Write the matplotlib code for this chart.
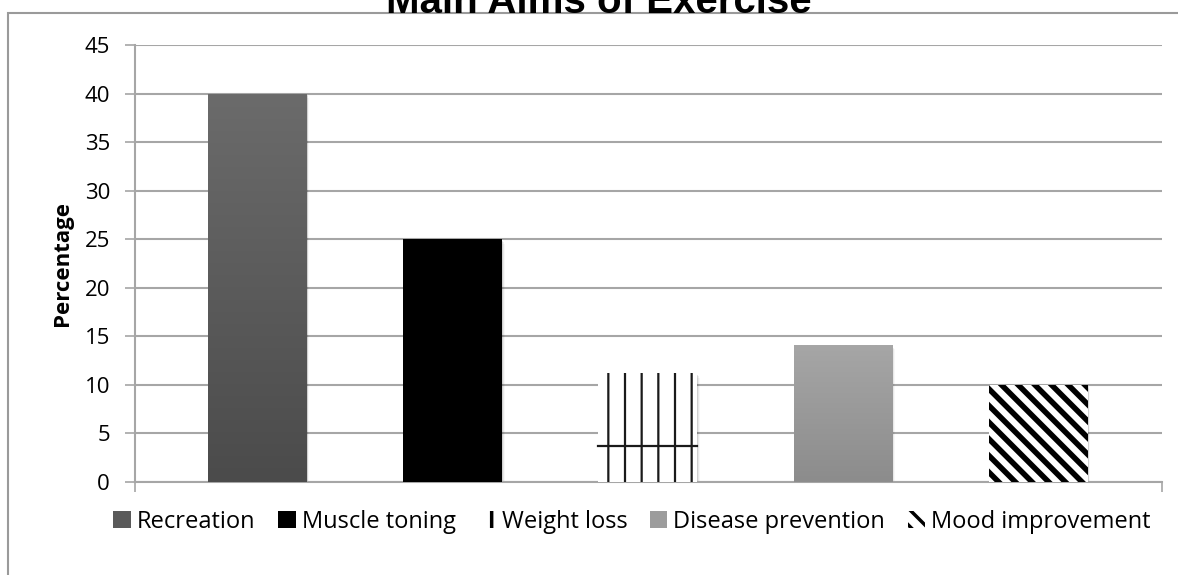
import numpy as np
import matplotlib
matplotlib.use("Agg")
import matplotlib.pyplot as plt
from matplotlib.patches import Rectangle, Patch

# data
categories = ["Recreation", "Muscle toning", "Weight loss", "Disease prevention", "Mood improvement"]
values = [40, 25, 11.2, 14.1, 10]
yticks = [0, 5, 10, 15, 20, 25, 30, 35, 40, 45]

plt.rcParams["font.family"] = ["Open Sans", "DejaVu Sans"]

fig = plt.figure(figsize=(11.78, 5.75), dpi=100)
ax = fig.add_axes([135 / 1178, 1 - 482 / 575, 1027 / 1178, 437 / 575])

x = np.arange(len(categories))
width = 0.507
grid_col = "#a6a6a6"

# outer chart frame (only top/left edges show in the crop)
fig.patches.append(Rectangle((8 / 1178, -0.2), 1.2, 1.2 - 13 / 575, transform=fig.transFigure,
                             fill=False, edgecolor="#9a9a9a", linewidth=1.5, zorder=0))

# bars
bars = []
for i, (cat, v) in enumerate(zip(categories, values)):
    if cat == "Weight loss":
        plt.rcParams["hatch.linewidth"] = 1.6
        b = ax.bar(x[i], v, width, color="white", edgecolor="#1a1a1a", hatch="|", linewidth=0, zorder=3)[0]
    elif cat == "Mood improvement":
        plt.rcParams["hatch.linewidth"] = 4.0
        b = ax.bar(x[i], v, width, color="white", edgecolor="black", hatch="\\\\", linewidth=0, zorder=3)[0]
    elif cat == "Muscle toning":
        b = ax.bar(x[i], v, width, color="black", linewidth=0, zorder=3)[0]
    else:
        b = ax.bar(x[i], v, width, color="none", linewidth=0, zorder=3)[0]
    bars.append(b)

# gradient fills for the two grey bars
grads = {"Recreation": ("#6b6b6b", "#4b4b4b"), "Disease prevention": ("#a6a6a6", "#8c8c8c")}
for cat, b in zip(categories, bars):
    if cat in grads:
        top, bot = [np.array(matplotlib.colors.to_rgb(c)) for c in grads[cat]]
        t = np.linspace(0, 1, 100)[:, None]
        img = (top * (1 - t) + bot * t)[:, None, :]
        x0, y0 = b.get_x(), b.get_y()
        im = ax.imshow(img, extent=[x0, x0 + b.get_width(), y0, y0 + b.get_height()],
                       aspect="auto", zorder=3, interpolation="bilinear")
        im.set_clip_path(b)

# soft shadows
for b in bars:
    for k, a in enumerate([0.10, 0.06, 0.03]):
        off = 0.004 * (k + 1)
        ax.add_patch(Rectangle((b.get_x() + off, b.get_y() - 0.15 * (k + 1)), b.get_width(), b.get_height(),
                               facecolor="black", alpha=a, linewidth=0, zorder=2.5))

# weight loss pattern has one horizontal line
wl = bars[categories.index("Weight loss")]
ax.plot([wl.get_x(), wl.get_x() + wl.get_width()], [wl.get_height() * 0.33] * 2,
        color="#1a1a1a", linewidth=1.6, zorder=4)

ax.set_xlim(-0.627, 4.633)
ax.set_ylim(0, 45)
ax.set_yticks(yticks)
ax.set_yticklabels([str(t) for t in yticks], fontsize=16)
ax.set_xticks(ax.get_xlim())
ax.set_xticklabels([])
ax.tick_params(axis="both", direction="out", length=7, width=1.2, color=grid_col)
ax.tick_params(axis="y", pad=11)
ax.yaxis.grid(True, color=grid_col, linewidth=1.5, zorder=0)
ax.set_axisbelow(True)
for s in ["top", "right"]:
    ax.spines[s].set_visible(False)
for s in ["left", "bottom"]:
    ax.spines[s].set_color(grid_col)
    ax.spines[s].set_linewidth(1.5)

ax.set_ylabel("Percentage", fontsize=16, fontweight="bold", labelpad=8)

fig.text(599 / 1178, 1 - 13 / 575, "Main Aims of Exercise", ha="center", va="baseline",
         fontsize=29, fontweight="bold", family=["Liberation Sans", "DejaVu Sans"])

# legend
plt.rcParams["hatch.linewidth"] = 2.5
handles = [
    Patch(facecolor="#5a5a5a"),
    Patch(facecolor="black"),
    Patch(facecolor="white", edgecolor="black", hatch="|", linewidth=0),
    Patch(facecolor="#9c9c9c"),
    Patch(facecolor="white", edgecolor="black", hatch="\\\\", linewidth=0),
]
fig.legend(handles, categories, loc="center", bbox_to_anchor=(632 / 1178, 1 - 522 / 575), ncol=5,
           frameon=False, fontsize=17, handlelength=0.75, handleheight=0.75, handletextpad=0.25,
           columnspacing=0.95, borderpad=0, borderaxespad=0)

fig.savefig("out.png", dpi=100)
